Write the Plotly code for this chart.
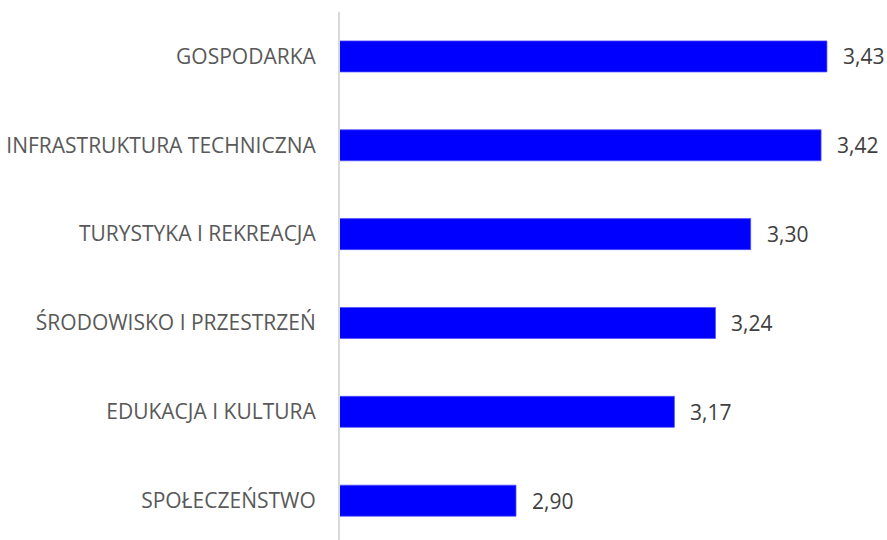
import plotly.graph_objects as go

categories = ["SPOŁECZEŃSTWO", "EDUKACJA I KULTURA", "ŚRODOWISKO I PRZESTRZEŃ",
              "TURYSTYKA I REKREACJA", "INFRASTRUKTURA TECHNICZNA", "GOSPODARKA"]
values = [2.90, 3.17, 3.24, 3.30, 3.42, 3.43]
value_labels = [f"{v:.2f}".replace(".", ",") for v in values]

FONT = "Open Sans"

fig = go.Figure()
fig.add_trace(go.Bar(
    x=values, y=categories, orientation="h",
    width=0.349,
    marker=dict(color="#0000FF", line=dict(color="#5050FF", width=0.75)),
    hoverinfo="skip",
))

for v, c, t in zip(values, categories, value_labels):
    fig.add_annotation(x=v, y=c, text=t, showarrow=False, xanchor="left",
                       yanchor="middle", xshift=14,
                       font=dict(family=FONT, size=21, color="#404040"))

fig.update_layout(
    width=887, height=540,
    margin=dict(l=340, r=19, t=12, b=0, pad=0),
    paper_bgcolor="white", plot_bgcolor="white",
    showlegend=False,
    xaxis=dict(range=[2.6, 3.5], visible=False, showgrid=False, zeroline=False),
    yaxis=dict(
        type="category", categoryorder="array", categoryarray=categories,
        range=[-0.4426, 5.5],
        showgrid=False, zeroline=False,
        showline=True, linecolor="#D9D9D9", linewidth=2,
        ticks="outside", ticklen=18, tickcolor="rgba(0,0,0,0)",
        tickfont=dict(family=FONT, size=21, color="#595959"),
    ),
)

fig.write_html(
    "out.html",
    config={"displayModeBar": False, "staticPlot": True},
    post_script="document.body.style.margin='0';document.body.style.overflow='hidden';",
)
